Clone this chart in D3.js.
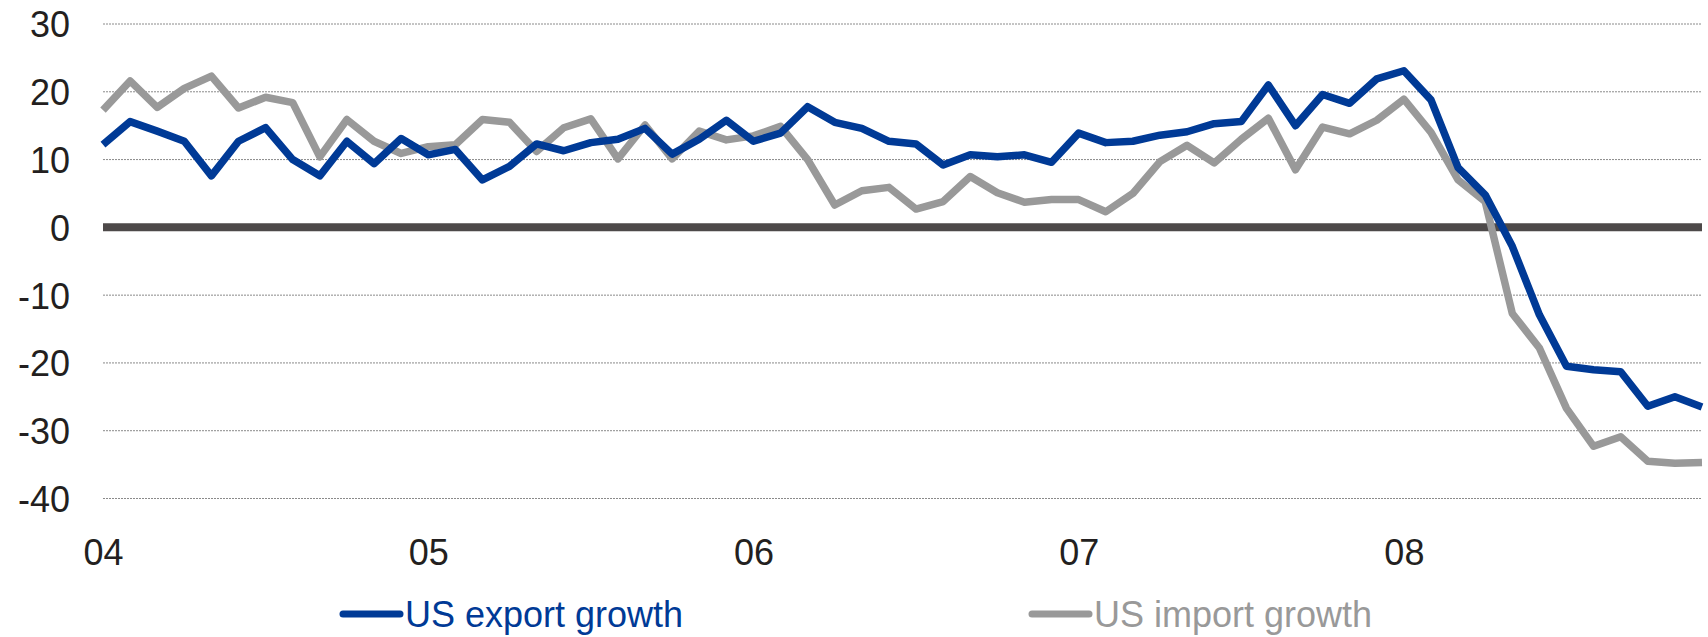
<!DOCTYPE html>
<html>
<head>
<meta charset="utf-8">
<script src="https://cdn.jsdelivr.net/npm/d3@7"></script>
<style>
  html, body { margin: 0; padding: 0; background: #ffffff; }
  svg { display: block; font-family: "Liberation Sans", Arial, sans-serif; }
</style>
</head>
<body>
<svg id="chart" width="1708" height="637"></svg>
<script>
// Monthly, Jan 2004 .. Dec 2008 (year-on-year growth, %)
const months = d3.range(60);
const exportGrowth = [
  12.2, 15.6, 14.2, 12.7, 7.6, 12.7, 14.7, 10.0, 7.6, 12.7, 9.4, 13.1,
  10.7, 11.5, 7.0, 9.0, 12.3, 11.3, 12.5, 13.0, 14.6, 10.8, 13.0, 15.8,
  12.7, 13.9, 17.8, 15.5, 14.6, 12.7, 12.3, 9.2, 10.7, 10.4, 10.7, 9.6,
  13.9, 12.5, 12.7, 13.6, 14.1, 15.3, 15.6, 21.0, 15.0, 19.6, 18.3, 21.9,
  23.1, 18.8, 8.8, 4.8, -2.8, -12.9, -20.5, -21.0, -21.3, -26.4, -25.0, -26.5
];
const importGrowth = [
  17.3, 21.6, 17.7, 20.5, 22.3, 17.6, 19.2, 18.4, 10.4, 15.9, 12.7, 10.9,
  11.9, 12.2, 15.9, 15.5, 11.2, 14.7, 16.0, 10.1, 15.1, 10.1, 14.2, 12.9,
  13.5, 14.9, 10.0, 3.3, 5.4, 5.9, 2.7, 3.8, 7.5, 5.1, 3.7, 4.1,
  4.1, 2.3, 5.0, 9.7, 12.1, 9.5, 13.0, 16.1, 8.5, 14.8, 13.8, 15.8,
  18.9, 14.0, 7.0, 3.8, -12.7, -17.8, -26.7, -32.3, -30.9, -34.5, -34.8, -34.7
];
const yTicks = [30, 20, 10, 0, -10, -20, -30, -40];
const yearTickIndex = [0, 12, 24, 36, 48];
const yearLabels = ["04", "05", "06", "07", "08"];
const seriesNames = ["US export growth", "US import growth"];
const seriesColors = ["#003a96", "#999999"];

const svg = d3.select("#chart");
const x = d3.scaleLinear().domain([0, 59]).range([103, 1702]);
const y = d3.scaleLinear().domain([-40, 30]).range([498.5, 24]);

// gridlines
svg.append("g").selectAll("line")
  .data(yTicks.filter(d => d !== 0))
  .join("line")
  .attr("x1", x(0)).attr("x2", x(59))
  .attr("y1", d => y(d)).attr("y2", d => y(d))
  .attr("stroke", "#8a8a8a").attr("stroke-width", 1)
  .attr("stroke-dasharray", "2,1");

// zero line
svg.append("line")
  .attr("x1", x(0)).attr("x2", x(59))
  .attr("y1", y(0)).attr("y2", y(0))
  .attr("stroke", "#4d4949").attr("stroke-width", 8);

// y labels
const yAxis = d3.axisLeft(y).tickValues(yTicks).tickSize(0).tickPadding(0)
  .tickFormat(d => String(d));
const gy = svg.append("g").attr("transform", "translate(70,0)").call(yAxis);
gy.select(".domain").remove();
gy.selectAll("text")
  .attr("font-size", 36).attr("fill", "#231f20")
  .attr("font-family", "'Liberation Sans', Arial, sans-serif")
  .attr("dy", "0.36em");

// x labels
const xAxis = d3.axisBottom(x).tickValues(yearTickIndex).tickSize(0).tickPadding(0)
  .tickFormat((d, i) => yearLabels[i]);
const gx = svg.append("g").attr("transform", "translate(0,565)").call(xAxis);
gx.select(".domain").remove();
gx.selectAll("text")
  .attr("font-size", 36).attr("fill", "#231f20")
  .attr("font-family", "'Liberation Sans', Arial, sans-serif")
  .attr("dy", 0).attr("y", 0);

// lines
const line = d3.line().x((d, i) => x(months[i])).y(d => y(d));
[exportGrowth, importGrowth].map((s, k) => ({ s, k })).reverse().forEach(({ s, k }) => {
  svg.append("path")
    .datum(s)
    .attr("d", line)
    .attr("fill", "none")
    .attr("stroke", seriesColors[k])
    .attr("stroke-width", 7.5)
    .attr("stroke-linejoin", "round")
    .attr("stroke-linecap", "butt");
});

// legend
const legendX = [343, 1032];
const legend = svg.append("g");
seriesNames.forEach((name, k) => {
  legend.append("line")
    .attr("x1", legendX[k]).attr("x2", legendX[k] + 57)
    .attr("y1", 614).attr("y2", 614)
    .attr("stroke", seriesColors[k]).attr("stroke-width", 7)
    .attr("stroke-linecap", "round");
  legend.append("text")
    .attr("x", legendX[k] + 62).attr("y", 627)
    .attr("font-size", 36).attr("fill", seriesColors[k])
    .text(name);
});
</script>
</body>
</html>
